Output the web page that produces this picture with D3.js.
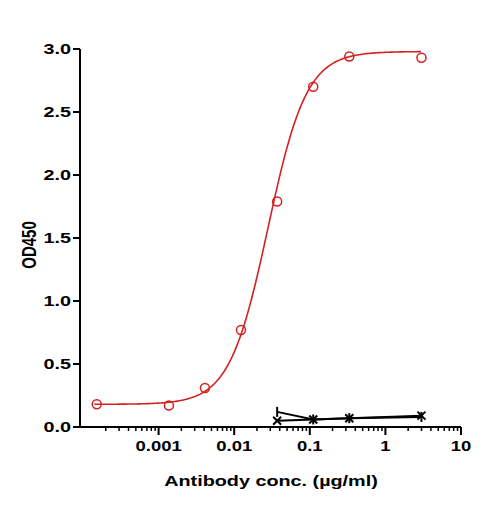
<!DOCTYPE html>
<html><head><meta charset="utf-8">
<script src="https://cdn.jsdelivr.net/npm/d3@7"></script>
<style>body{margin:0;background:#fff}</style>
</head><body><div class="c"></div>
<script>
var redConc = [0.000152, 0.00137, 0.0041, 0.0123, 0.037, 0.111, 0.333, 3];
var redOD = [0.18, 0.17, 0.31, 0.77, 1.79, 2.70, 2.94, 2.93];
var ctrlConc = [0.037, 0.111, 0.333, 3];
var ctrlA = [0.05, 0.06, 0.07, 0.09];
var ctrlB = [0.12, 0.06, 0.07, 0.08];
// 4PL fit parameters
var fitBottom = 0.18, fitTop = 2.98, fitEC50 = 0.028, fitHill = 1.7;
var xTicks = [0.001, 0.01, 0.1, 1, 10];
var xTickLabels = ["0.001", "0.01", "0.1", "1", "10"];
var yTicks = [0, 0.5, 1.0, 1.5, 2.0, 2.5, 3.0];

var w = 485, h = 508;
var svg = d3.select(".c").append("svg").attr("width", w).attr("height", h);
var x = d3.scaleLog().domain([0.0001, 10]).range([83, 461]);
var y = d3.scaleLinear().domain([0, 3]).range([427, 49]);
var font = "Arial, 'Liberation Sans', sans-serif";
var sx = 1.32; // horizontal stretch of the reference text

// x axis with minor ticks
var minor = [];
for (var e = -4; e < 1; e++) for (var k = 2; k <= 9; k++) minor.push(k * Math.pow(10, e));
var gx = svg.append("g").attr("transform", "translate(0,427)");
gx.append("line").attr("x1", 80).attr("x2", 461).attr("stroke", "#000").attr("stroke-width", 2);
gx.selectAll(".mn").data(minor).enter().append("line")
  .attr("x1", d => x(d)).attr("x2", d => x(d)).attr("y1", 0).attr("y2", 4)
  .attr("stroke", "#000").attr("stroke-width", 1.5);
gx.selectAll(".mj").data(xTicks).enter().append("line")
  .attr("x1", d => x(d)).attr("x2", d => x(d)).attr("y1", 0).attr("y2", 8)
  .attr("stroke", "#000").attr("stroke-width", 2);
gx.selectAll("text").data(xTicks).enter().append("text")
  .attr("transform", d => "translate(" + x(d) + ",24) scale(" + sx + ",1)")
  .attr("text-anchor", "middle")
  .attr("font-family", font).attr("font-size", 14).attr("font-weight", "bold")
  .text((d, i) => xTickLabels[i]);

// y axis
var gy = svg.append("g").attr("transform", "translate(80,0)");
gy.append("line").attr("y1", 49).attr("y2", 428).attr("stroke", "#000").attr("stroke-width", 2);
gy.selectAll("line.t").data(yTicks).enter().append("line")
  .attr("x1", -7).attr("x2", 0).attr("y1", d => y(d)).attr("y2", d => y(d))
  .attr("stroke", "#000").attr("stroke-width", 2);
gy.selectAll("text").data(yTicks).enter().append("text")
  .attr("transform", d => "translate(-9," + (y(d) + 5) + ") scale(" + sx + ",1)")
  .attr("text-anchor", "end")
  .attr("font-family", font).attr("font-size", 15).attr("font-weight", "bold")
  .text(d => d.toFixed(1));

svg.append("text").attr("transform", "translate(271,486) scale(" + sx + ",1)").attr("text-anchor", "middle")
  .attr("font-family", font).attr("font-size", 15).attr("font-weight", "bold")
  .text("Antibody conc. (µg/ml)");
svg.append("text").attr("transform", "translate(36,245) rotate(-90) scale(1,1.3)").attr("text-anchor", "middle")
  .attr("font-family", font).attr("font-size", 15).attr("font-weight", "bold")
  .text("OD450");

// fitted curve
var curveX = d3.range(-3.85, 0.49, 0.02).map(v => Math.pow(10, v));
var fit = c => fitBottom + (fitTop - fitBottom) / (1 + Math.pow(fitEC50 / c, fitHill));
svg.append("path").datum(curveX)
  .attr("d", d3.line().x(d => x(d)).y(d => y(fit(d))))
  .attr("fill", "none").attr("stroke", "#d42020").attr("stroke-width", 1.6);
svg.selectAll(".rp").data(redConc).enter().append("circle")
  .attr("cx", d => x(d)).attr("cy", (d, i) => y(redOD[i])).attr("r", 4.5)
  .attr("fill", "none").attr("stroke", "#d42020").attr("stroke-width", 1.5);

// control series
[ctrlA, ctrlB].forEach(function (vals, s) {
  svg.append("path").datum(ctrlConc)
    .attr("d", d3.line().x(d => x(d)).y((d, i) => y(vals[i])))
    .attr("fill", "none").attr("stroke", "#000").attr("stroke-width", 2);
  svg.selectAll(".cp" + s).data(ctrlConc).enter().append("path")
    .attr("transform", (d, i) => "translate(" + x(d) + "," + y(vals[i]) + ")")
    .attr("d", s === 0 ? "M-4,-4L4,4M-4,4L4,-4" : "M0,-5L0,5")
    .attr("stroke", "#000").attr("stroke-width", 2);
});
</script></body></html>
